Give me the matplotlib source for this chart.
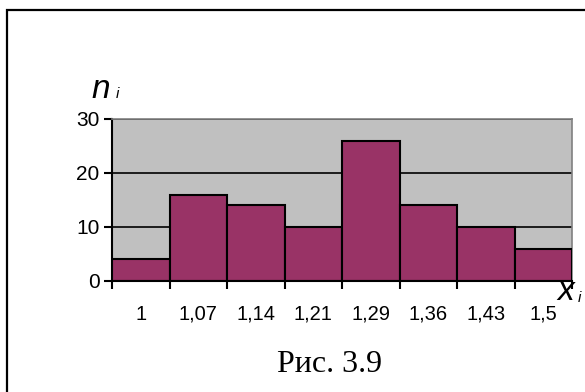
import matplotlib.pyplot as plt
from matplotlib.patches import Rectangle

# histogram data
labels = ['1', '1,07', '1,14', '1,21', '1,29', '1,36', '1,43', '1,5']
counts = [4, 16, 14, 10, 26, 14, 10, 6]

W, H = 585, 392
fig = plt.figure(figsize=(W / 100, H / 100), dpi=100)
plt.rcParams['font.family'] = 'Liberation Sans'

# outer frame (runs off the right and bottom edges)
fig.patches.append(Rectangle((7 / W, -0.1), 1.2, 1 - 10 / H + 0.1,
                             transform=fig.transFigure, fill=False,
                             edgecolor='black', linewidth=1.6))

ax = fig.add_axes([112 / W, 1 - 281 / H, 460 / W, 162 / H])
ax.set_facecolor('#c0c0c0')
ax.set_xlim(0, len(counts))
ax.set_ylim(0, 30)

ax.yaxis.grid(True, color='black', linewidth=1.2)
ax.set_axisbelow(True)

xs = list(range(len(counts)))
ax.bar(xs, counts, width=1, align='edge', color='#993366',
       edgecolor='black', linewidth=1.5, zorder=3)

for s in ['top', 'right']:
    ax.spines[s].set_color('#808080')
    ax.spines[s].set_linewidth(1.2)
for s in ['left', 'bottom']:
    ax.spines[s].set_color('black')
    ax.spines[s].set_linewidth(1.5)
ax.spines['bottom'].set_zorder(4)

ax.set_yticks([0, 10, 20, 30])
ax.tick_params(axis='y', direction='out', length=6, width=1.5, labelsize=15, pad=3)
ax.set_xticks(range(len(counts) + 1))
ax.set_xticklabels([])
ax.tick_params(axis='x', which='major', direction='out', length=6, width=1.5)
ax.set_xticks([x + 0.5 for x in xs], minor=True)
ax.set_xticklabels(labels, minor=True)
ax.tick_params(axis='x', which='minor', length=0, labelsize=14.5, pad=17)

fig.text(91 / W, 1 - 98 / H, 'n', fontsize=24, style='italic', ha='left', va='baseline')
fig.text(116 / W, 1 - 98 / H, 'i', fontsize=11, style='italic', ha='left', va='baseline')
fig.text(557 / W, 1 - 300 / H, 'x', fontsize=24, style='italic', ha='left', va='baseline')
fig.text(578 / W, 1 - 302 / H, 'i', fontsize=11, style='italic', ha='left', va='baseline')

fig.text(330 / W, 1 - 365 / H, 'Рис. 3.9', fontsize=23, family='Liberation Serif',
         ha='center', va='center')

fig.savefig('out.png', dpi=100)
